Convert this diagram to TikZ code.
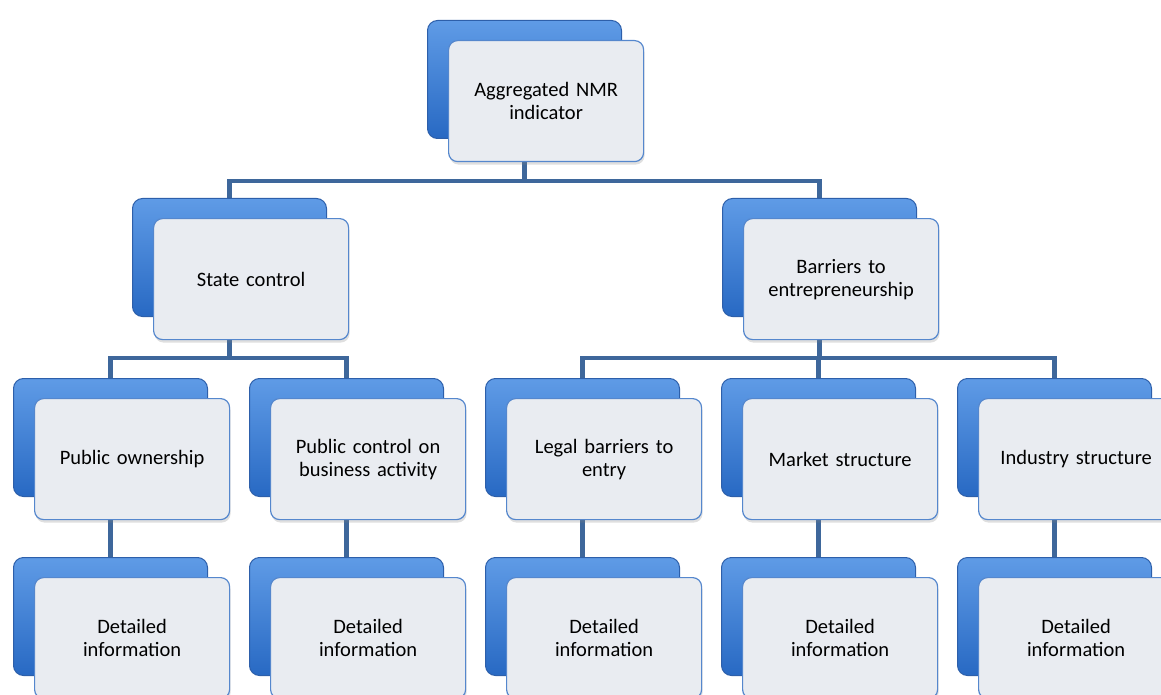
\documentclass[tikz,border=0pt]{standalone}
\usepackage{fontspec}
\setmainfont{Carlito}
\usetikzlibrary{shadows}
\definecolor{backtop}{RGB}{95,155,230}
\definecolor{backbot}{RGB}{40,105,195}
\definecolor{backedge}{RGB}{45,95,170}
\definecolor{frontfill}{RGB}{233,236,241}
\definecolor{frontedge}{RGB}{85,135,205}
\definecolor{linkcol}{RGB}{62,103,155}
\pgfdeclarelayer{bg}
\pgfsetlayers{bg,main}
\tikzset{
  backbox/.style={anchor=north west, minimum width=194pt, minimum height=118pt,
    rounded corners=10pt, draw=backedge, line width=1pt,
    top color=backtop, bottom color=backbot, inner sep=0pt},
  frontbox/.style={anchor=north west, minimum width=195pt, minimum height=121pt,
    rounded corners=9pt, draw=frontedge, line width=1.2pt, fill=frontfill,
    text width=187pt, inner xsep=4pt, inner ysep=0pt, align=center,
    font=\fontsize{20.5}{23}\selectfont,
    drop shadow={opacity=0.25, shadow xshift=1pt, shadow yshift=-3pt}},
  link/.style={draw=linkcol, line width=4.5pt}
}
\newcommand\boxpair[4]{%
  \node[backbox] (#1-b) at (#2,-#3) {};
  \node[frontbox] (#1) at ({#2+21},{-#3-20}) {#4};
}
\begin{document}
\begin{tikzpicture}[x=1pt,y=1pt]
\useasboundingbox (0,0) rectangle (1161,-695);
\clip (0,0) rectangle (1161,-695);
\boxpair{top}{427}{20}{Aggregated NMR\\indicator}
\boxpair{sc}{132}{198}{State control}
\boxpair{be}{722}{198}{Barriers to\\entrepreneurship}
\boxpair{po}{13}{378}{Public ownership}
\boxpair{pc}{249}{378}{Public control on\\business activity}
\boxpair{lb}{485}{378}{Legal barriers to\\entry}
\boxpair{ms}{721}{378}{Market structure}
\boxpair{is}{957}{378}{Industry structure}
\boxpair{d1}{13}{557}{Detailed\\information}
\boxpair{d2}{249}{557}{Detailed\\information}
\boxpair{d3}{485}{557}{Detailed\\information}
\boxpair{d4}{721}{557}{Detailed\\information}
\boxpair{d5}{957}{557}{Detailed\\information}
\coordinate (bar1) at (0,-181);
\coordinate (bar2) at (0,-358);
\begin{pgfonlayer}{bg}
\draw[link] (top-b.south) -- (top-b.south |- bar1) -| (sc-b.north);
\draw[link] (top-b.south |- bar1) -| (be-b.north);
\draw[link] (sc-b.south) -- (sc-b.south |- bar2) -| (po-b.north);
\draw[link] (sc-b.south |- bar2) -| (pc-b.north);
\draw[link] (be-b.south) -- (be-b.south |- bar2) -| (lb-b.north);
\draw[link] (be-b.south |- bar2) -| (ms-b.north);
\draw[link] (be-b.south |- bar2) -| (is-b.north);
\draw[link] (po-b.south) -- (d1-b.north);
\draw[link] (pc-b.south) -- (d2-b.north);
\draw[link] (lb-b.south) -- (d3-b.north);
\draw[link] (ms-b.south) -- (d4-b.north);
\draw[link] (is-b.south) -- (d5-b.north);
\end{pgfonlayer}
\end{tikzpicture}
\end{document}
